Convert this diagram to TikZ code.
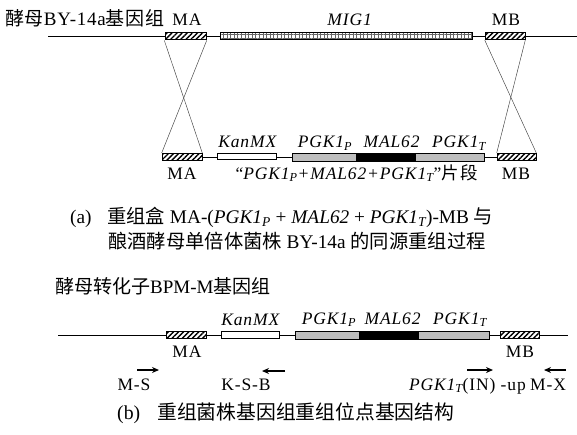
\documentclass[tikz,border=0pt]{standalone}
\usepackage{fontspec}
\setmainfont{Liberation Serif}
\newfontfamily\cjk{Noto Sans CJK SC}
\usetikzlibrary{patterns.meta,arrows.meta}
\newcommand\zh[1]{{\cjk #1}}
\definecolor{boxgray}{RGB}{190,190,190}
\tikzset{
  gline/.style={line width=0.9pt},
  xline/.style={line width=0.45pt, black!75},
  segbox/.style={draw, line width=0.6pt, minimum height=7.5pt, inner sep=0},
  hatchbox/.style={segbox, preaction={fill=white}, pattern={Lines[angle=45,distance=3.6pt,line width=1.4pt]}},
  gridbox/.style={segbox, preaction={fill=white}, pattern={Hatch[angle=0,distance=3.6pt,line width=0.4pt]}, pattern color=black!60},
  whitebox/.style={segbox, fill=white, minimum height=6.5pt},
  graybox/.style={segbox, fill=boxgray, minimum height=8pt},
  blackbox/.style={segbox, fill=black, minimum height=8pt},
  lab/.style={inner sep=0, anchor=base, font=\fontsize{17.5}{20}\selectfont\addfontfeature{LetterSpace=5}},
  hdr/.style={inner sep=0, anchor=base west, font=\fontsize{19}{22}\selectfont},
  captxt/.style={inner sep=0, anchor=base west, font=\fontsize{19.3}{23}\selectfont},
  primer/.style={line width=1.4pt, -{Stealth[length=7pt,width=6pt]}}
}
\begin{document}
\begin{tikzpicture}[x=1pt,y=-1pt]
\useasboundingbox (0,0) rectangle (577,434);
\fill[white] (0,0) rectangle (577,434);

% ---------- (a) top: genome ----------
\node[hdr] (hdrA) at (5,25) {{\cjk\addfontfeature{LetterSpace=4}酵母}\addfontfeature{LetterSpace=4}BY-14a{\cjk\addfontfeature{LetterSpace=4}基因组}};
\coordinate (a1L) at (48,36);
\coordinate (a1R) at (577,36);
\draw[gline] (a1L) -- (a1R);
\node[hatchbox, minimum width=41pt] (maT) at (185.5,36) {};
\node[gridbox, minimum width=252pt] (mig) at (346,36) {};
\node[hatchbox, minimum width=40pt] (mbT) at (505,36) {};
\node[lab] (maTl) at (187,25) {MA};
\node[lab] (migl) at (350,25) {\textit{MIG1}};
\node[lab] (mbTl) at (506,25) {MB};

% ---------- (a) bottom: cassette ----------
\node[hatchbox, minimum width=40pt] (maB) at (182,157) {};
\node[hatchbox, minimum width=39pt] (mbB) at (516.5,157) {};
\draw[gline] (maB.east) -- (mbB.west);
\node[whitebox, minimum width=59pt] (kanA) at (246.5,156.5) {};
\node[graybox, minimum width=64pt] (pgkpA) at (324,157) {};
\node[blackbox, minimum width=59pt] (malA) at (385.5,157) {};
\node[graybox, minimum width=69pt] (pgktA) at (449.5,157) {};

\draw[xline] (maT.south west) -- (maB.north east);
\draw[xline] (maT.south east) -- (maB.north west);
\draw[xline] (mbT.south west) -- (mbB.north east);
\draw[xline] (mbT.south east) -- (mbB.north west);

\node[lab] (kanAl) at (248,147.5) {\textit{KanMX}};
\node[lab] (pgkpAl) at (325,147.5) {\textit{PGK1\textsubscript{P}}};
\node[lab] (malAl) at (392,147.5) {\textit{MAL62}};
\node[lab] (pgktAl) at (459,147.5) {\textit{PGK1\textsubscript{T}}};
\node[lab] (maBl) at (182,179) {MA};
\node[lab] (fragl) at (357,179) {“\textit{PGK1\textsubscript{P}+MAL62+PGK1\textsubscript{T}}”{\cjk\addfontfeature{LetterSpace=12}片段}};
\node[lab] (mbBl) at (516,179) {MB};

% ---------- caption (a) ----------
\node[captxt] (capAa) at (70,223) {(a)};
\node[captxt] (capA1) at (107,223) {\zh{重组盒} MA-(\textit{PGK1\textsubscript{P}} + \textit{MAL62} + \textit{PGK1\textsubscript{T}})-MB \zh{与}};
\node[captxt] (capA2) at (108,248) {\zh{酿酒酵母单倍体菌株} BY-14a \zh{的同源重组过程}};

% ---------- (b) ----------
\node[hdr] (hdrB) at (55,293) {\zh{酵母转化子}BPM-M\zh{基因组}};
\coordinate (bL) at (58,335);
\coordinate (bR) at (568,335);
\draw[gline] (bL) -- (bR);
\node[hatchbox, minimum width=40pt] (maC) at (186,335) {};
\node[whitebox, minimum width=58pt] (kanB) at (250,335) {};
\node[graybox, minimum width=64pt] (pgkpB) at (327,335) {};
\node[blackbox, minimum width=59pt] (malB) at (388.5,335) {};
\node[graybox, minimum width=71pt] (pgktB) at (453.5,335) {};
\node[hatchbox, minimum width=39pt] (mbC) at (519.5,335) {};

\node[lab] (kanBl) at (251,325) {\textit{KanMX}};
\node[lab] (pgkpBl) at (329,324) {\textit{PGK1\textsubscript{P}}};
\node[lab] (malBl) at (393,324) {\textit{MAL62}};
\node[lab] (pgktBl) at (460,324) {\textit{PGK1\textsubscript{T}}};
\node[lab] (maCl) at (187,357) {MA};
\node[lab] (mbCl) at (520,357) {MB};

% primers
\coordinate (msS) at (137,370);  \coordinate (msE) at (159,370);
\coordinate (ksS) at (285,371);  \coordinate (ksE) at (262,371);
\coordinate (piS) at (467,370);  \coordinate (piE) at (493,370);
\coordinate (mxS) at (566,370);  \coordinate (mxE) at (544,370);
\draw[primer] (msS) -- (msE);
\draw[primer] (ksS) -- (ksE);
\draw[primer] (piS) -- (piE);
\draw[primer] (mxS) -- (mxE);
\node[lab] (msl) at (134,390) {M-S};
\node[lab] (ksl) at (246,390) {K-S-B};
\node[lab, anchor=base east] (pil) at (526,390) {\textit{PGK1\textsubscript{T}}(IN) -up};
\node[lab, anchor=base west] (mxl) at (530,390) {M-X};

% ---------- caption (b) ----------
\node[captxt, font=\fontsize{19.8}{23}\selectfont] (capBb) at (117,419) {(b)};
\node[captxt, font=\fontsize{19.8}{23}\selectfont] (capB) at (157,419) {\zh{重组菌株基因组重组位点基因结构}};
\end{tikzpicture}
\end{document}
